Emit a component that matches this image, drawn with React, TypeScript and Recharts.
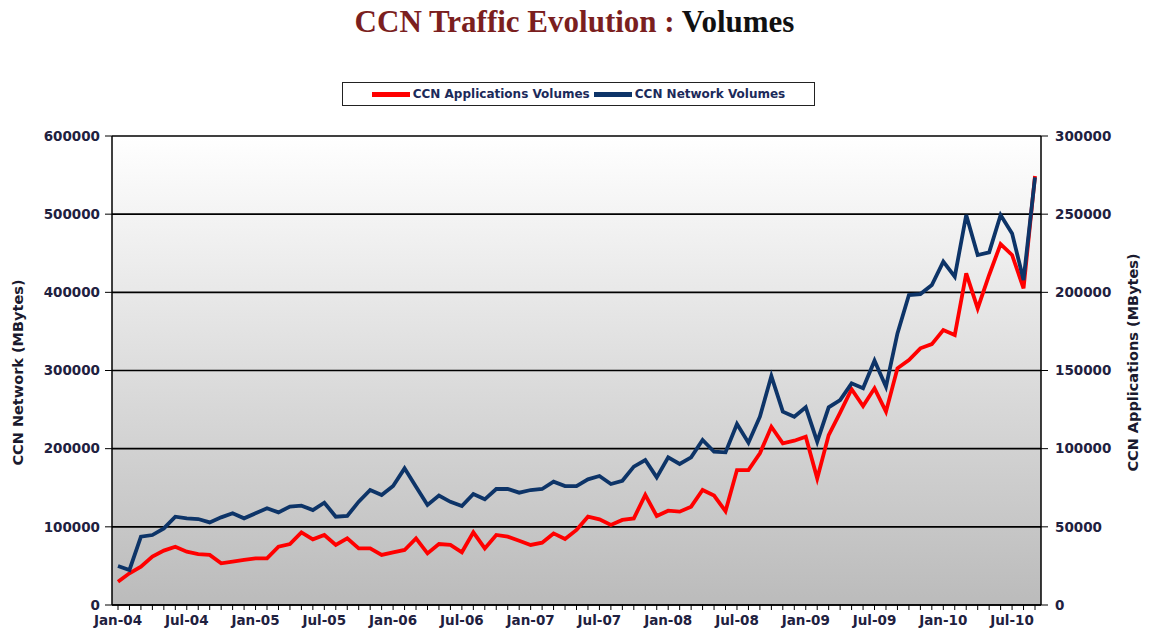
import { CartesianGrid, Line, LineChart, XAxis, YAxis } from "recharts";

const months = [
  "Jan-04", "Feb-04", "Mar-04", "Apr-04", "May-04", "Jun-04", "Jul-04", "Aug-04", "Sep-04", "Oct-04", "Nov-04", "Dec-04",
  "Jan-05", "Feb-05", "Mar-05", "Apr-05", "May-05", "Jun-05", "Jul-05", "Aug-05", "Sep-05", "Oct-05", "Nov-05", "Dec-05",
  "Jan-06", "Feb-06", "Mar-06", "Apr-06", "May-06", "Jun-06", "Jul-06", "Aug-06", "Sep-06", "Oct-06", "Nov-06", "Dec-06",
  "Jan-07", "Feb-07", "Mar-07", "Apr-07", "May-07", "Jun-07", "Jul-07", "Aug-07", "Sep-07", "Oct-07", "Nov-07", "Dec-07",
  "Jan-08", "Feb-08", "Mar-08", "Apr-08", "May-08", "Jun-08", "Jul-08", "Aug-08", "Sep-08", "Oct-08", "Nov-08", "Dec-08",
  "Jan-09", "Feb-09", "Mar-09", "Apr-09", "May-09", "Jun-09", "Jul-09", "Aug-09", "Sep-09", "Oct-09", "Nov-09", "Dec-09",
  "Jan-10", "Feb-10", "Mar-10", "Apr-10", "May-10", "Jun-10", "Jul-10", "Aug-10", "Sep-10",
];

// left axis (MBytes)
const networkVolumes = [
  49900, 44800, 87400, 89500, 98000, 113000, 110900, 110000, 105700, 112100,
  117300, 110900, 117300, 123700, 118500, 125800, 127100, 121500, 130900, 113000,
  113900, 132200, 147100, 140700, 152200, 174800, 151400, 127900, 139900, 132000,
  126600, 142000, 135200, 148400, 148400, 143700, 147100, 148400, 157800, 152200,
  152200, 160800, 165000, 154800, 159000, 177000, 185500, 163300, 188900, 180400,
  188900, 211100, 196100, 195300, 231500, 207700, 240900, 292900, 247300, 240900,
  252900, 208900, 252900, 262200, 283600, 277200, 312600, 279300, 347500, 396600,
  397800, 409300, 439200, 420000, 498900, 447700, 451100, 498900, 475400, 415700, 547100,
];

// right axis (MBytes)
const applicationVolumes = [
  14900, 20300, 24500, 30900, 34800, 37300, 34100, 32600, 32000, 26700,
  27700, 28800, 29800, 29800, 37300, 39000, 46500, 42000, 44800, 38400,
  42600, 36200, 36200, 32000, 33700, 35200, 42600, 33000, 39000, 38400,
  33700, 46500, 36200, 44800, 43700, 41100, 38400, 39900, 45800, 42200,
  48000, 56500, 54800, 51200, 54400, 55400, 70400, 56900, 60300, 59700,
  62900, 73600, 70000, 60000, 86300, 86300, 97000, 114000, 103400, 105100,
  107700, 81000, 108700, 123000, 138000, 127300, 138600, 123700, 151400, 156700,
  164200, 166900, 175900, 172700, 212100, 189700, 211100, 230900, 223900, 202500, 274400,
];

const leftTicks = [0, 100000, 200000, 300000, 400000, 500000, 600000];
const rightTicks = [0, 50000, 100000, 150000, 200000, 250000, 300000];

const data = months.map((month, i) => ({
  month,
  network: networkVolumes[i],
  apps: applicationVolumes[i],
}));

const tickFont = {
  fontFamily: "DejaVu Sans",
  fontSize: 13.5,
  fontWeight: 700,
  fill: "#1f2140",
};

function MonthTick(props: any) {
  const { x, y, payload, index } = props;
  if (index % 6 !== 0) return <g />;
  return (
    <text x={x} y={y} dy={13} textAnchor="middle" {...tickFont}>
      {payload.value}
    </text>
  );
}

function AxisTitle(props: any) {
  const { viewBox, side, text } = props;
  const cx = side === "left" ? viewBox.x + 18 : viewBox.x + viewBox.width - 16;
  const cy = viewBox.y + viewBox.height / 2 + (side === "left" ? 2 : -8);
  return (
    <text
      x={cx}
      y={cy}
      transform={`rotate(-90 ${cx} ${cy})`}
      textAnchor="middle"
      dominantBaseline="central"
      fontFamily="DejaVu Sans"
      fontSize={14.5}
      fontWeight={700}
      fill="#1a1a2e"
    >
      {text}
    </text>
  );
}

function LegendBox() {
  const item = { display: "flex", alignItems: "center" } as const;
  const swatch = (color: string) => (
    <span style={{ width: 38, height: 5, background: color, display: "inline-block", marginRight: 3 }} />
  );
  return (
    <div
      style={{
        position: "absolute",
        left: 342,
        top: 82,
        width: 473,
        height: 24,
        border: "1.5px solid #222",
        background: "#fff",
        display: "flex",
        alignItems: "center",
        justifyContent: "center",
        gap: 4,
        fontFamily: "DejaVu Sans",
        fontSize: 12,
        fontWeight: 700,
        color: "#1b2a5a",
        boxSizing: "border-box",
      }}
    >
      <span style={item}>{swatch("#ff0000")}CCN Applications Volumes</span>
      <span style={item}>{swatch("#0d3468")}CCN Network Volumes</span>
    </div>
  );
}

export default function App() {
  return (
    <div style={{ position: "absolute", left: 0, top: 0, width: 1149, height: 636, background: "#fff" }}>
      <div
        style={{
          position: "absolute",
          left: 0,
          top: 4,
          width: 1149,
          textAlign: "center",
          fontFamily: "Liberation Serif",
          fontSize: 31,
          fontWeight: 700,
          color: "#7b1f1f",
        }}
      >
        CCN Traffic Evolution : <span style={{ color: "#111" }}>Volumes</span>
      </div>
      <LegendBox />
      <LineChart
        width={1149}
        height={636}
        data={data}
        margin={{ top: 136, right: 0, bottom: 0, left: 0 }}
        style={{ position: "absolute", left: 0, top: 0 }}
      >
        <defs>
          <linearGradient id="plotBg" x1="0" y1="0" x2="0" y2="1">
            <stop offset="0%" stopColor="#ffffff" />
            <stop offset="100%" stopColor="#bbbbbb" />
          </linearGradient>
        </defs>
        <CartesianGrid
          yAxisId="left"
          vertical={false}
          stroke="#000"
          strokeWidth={1.6}
          fill="url(#plotBg)"
          fillOpacity={1}
        />
        <XAxis
          dataKey="month"
          interval={0}
          height={31}
          padding={{ left: 6, right: 6 }}
          tickSize={5}
          tickMargin={2}
          axisLine={{ stroke: "#000", strokeWidth: 1.5 }}
          tickLine={{ stroke: "#000" }}
          tick={<MonthTick />}
        />
        <YAxis
          yAxisId="left"
          orientation="left"
          width={112}
          domain={[0, 600000]}
          ticks={leftTicks}
          interval={0}
          tickSize={7}
          tickMargin={5}
          axisLine={{ stroke: "#000", strokeWidth: 1.5 }}
          tickLine={{ stroke: "#000" }}
          tick={tickFont}
          label={<AxisTitle side="left" text="CCN Network (MBytes)" />}
        />
        <YAxis
          yAxisId="right"
          orientation="right"
          width={108}
          domain={[0, 300000]}
          ticks={rightTicks}
          interval={0}
          tickSize={7}
          tickMargin={7}
          axisLine={{ stroke: "#000", strokeWidth: 1.5 }}
          tickLine={{ stroke: "#000" }}
          tick={tickFont}
          label={<AxisTitle side="right" text="CCN Applications (MBytes)" />}
        />
        <Line
          yAxisId="right"
          type="linear"
          dataKey="apps"
          name="CCN Applications Volumes"
          stroke="#ff0000"
          strokeWidth={3.8}
          dot={false}
          isAnimationActive={false}
        />
        <Line
          yAxisId="left"
          type="linear"
          dataKey="network"
          name="CCN Network Volumes"
          stroke="#0d3468"
          strokeWidth={3.8}
          dot={false}
          isAnimationActive={false}
        />
      </LineChart>
    </div>
  );
}
